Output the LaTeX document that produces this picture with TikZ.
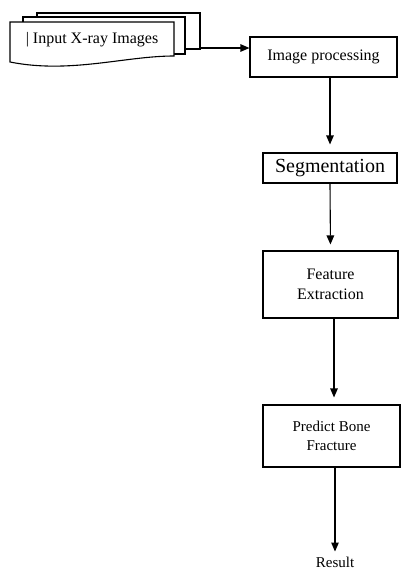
\documentclass[tikz,border=0pt]{standalone}
\usepackage{fontspec}
\setmainfont{Liberation Serif}
\usetikzlibrary{arrows.meta,calc}

\tikzset{
  box/.style={draw=black, line width=1.1pt, fill=white, align=center, inner sep=0pt},
  arr/.style={draw=black, line width=1.1pt, -{Triangle[length=9pt,width=7.5pt]}},
  sheet/.style={draw=black, line width=1.1pt, fill=white},
  lbl/.style={align=center, inner sep=0pt, text=black}
}

\begin{document}
\begin{tikzpicture}[x=1pt, y=-1pt]
  \useasboundingbox (0,0) rectangle (404,571);

  % stacked documents (back to front)
  \draw[sheet] (37,13) rectangle (200,49);
  \draw[sheet] (23,17) rectangle (185,54);
  \draw[sheet] (10,22) -- (174,22) -- (174,56)
        .. controls (125,56) and (70,74) .. (10,62) -- cycle;
  \node[lbl, font=\fontsize{16}{19}\selectfont] (inp) at (92,40) {| Input X-ray Images};
  \coordinate (docR) at (200,48);

  % processing chain
  \node[box, minimum width=147pt, minimum height=40pt,
        font=\fontsize{16}{19}\selectfont] (ip) at (323.5,57) {Image processing};
  \node[box, minimum width=134pt, minimum height=30pt,
        font=\fontsize{20}{24}\selectfont] (seg) at (330,168) {Segmentation};
  \node[box, minimum width=135pt, minimum height=67pt,
        font=\fontsize{16}{20}\selectfont] (fe) at (330.5,284.5) {Feature\\Extraction};
  \node[box, minimum width=137pt, minimum height=62pt,
        font=\fontsize{15}{19}\selectfont] (pr) at (331.5,436) {Predict Bone\\Fracture};
  \node[lbl, font=\fontsize{15}{18}\selectfont] (res) at (335,562) {Result};

  % connectors
  \draw[arr] (docR) -- (docR -| ip.west);
  \draw[arr, shorten >=8pt] (ip.south -| seg.north) -- (seg.north);
  \draw[arr, shorten >=6pt] (seg.south) -- (fe.north);
  \draw[arr, shorten >=7pt] ([xshift=3.5pt]fe.south) -- ([xshift=2.5pt]pr.north);
  \draw[arr] ([xshift=3.5pt]pr.south) -- ([yshift=5pt]res.north);
\end{tikzpicture}
\end{document}
